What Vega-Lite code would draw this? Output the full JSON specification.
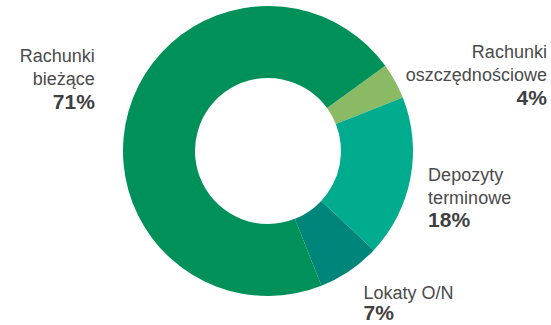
{
  "$schema": "https://vega.github.io/schema/vega-lite/v6.json",
  "width": 536,
  "height": 302,
  "autosize": {"type": "none"},
  "padding": {"left": 0, "top": 0, "right": 15, "bottom": 23},
  "background": "white",
  "view": {"stroke": null},
  "config": {"text": {"font": "Liberation Sans"}},
  "data": {"values": [
    {"k": 1, "cat": "osz", "name": "Rachunki\noszczędnościowe", "value": 4, "pct": "4%"},
    {"k": 2, "cat": "dep", "name": "Depozyty\nterminowe", "value": 18, "pct": "18%"},
    {"k": 3, "cat": "lok", "name": "Lokaty O/N", "value": 7, "pct": "7%"},
    {"k": 4, "cat": "bie", "name": "Rachunki\nbieżące", "value": 71, "pct": "71%"}
  ]},
  "encoding": {
    "theta": {"field": "value", "type": "quantitative", "stack": true, "scale": {"range": [0.942, 7.2252]}},
    "order": {"field": "k", "type": "quantitative"}
  },
  "layer": [
    {"mark": {"type": "arc", "outerRadius": 145, "innerRadius": 73},
     "encoding": {"color": {"field": "cat", "type": "nominal", "legend": null,
       "scale": {"domain": ["osz", "dep", "lok", "bie"], "range": ["#8aba64", "#00ab8e", "#00857a", "#00905a"]}}}},
    {"mark": {"type": "text", "radius": 175, "align": "right", "baseline": "alphabetic", "lineBreak": "\n", "lineHeight": 23, "fontSize": 18, "fill": "#4a4a4a", "dx": 125.6, "dy": -8.7},
     "encoding": {"text": {"condition": {"test": "datum.cat === 'osz'", "field": "name"}, "value": ""}}},
    {"mark": {"type": "text", "radius": 175, "align": "right", "baseline": "alphabetic", "fontSize": 21, "fontWeight": "bold", "fill": "#3f3f3f", "dx": 125.6, "dy": 38.3},
     "encoding": {"text": {"condition": {"test": "datum.cat === 'osz'", "field": "pct"}, "value": ""}}},
    {"mark": {"type": "text", "radius": 175, "align": "left", "baseline": "alphabetic", "lineBreak": "\n", "lineHeight": 23, "fontSize": 18, "fill": "#4a4a4a", "dx": -11.8, "dy": -2.4},
     "encoding": {"text": {"condition": {"test": "datum.cat === 'dep'", "field": "name"}, "value": ""}}},
    {"mark": {"type": "text", "radius": 175, "align": "left", "baseline": "alphabetic", "fontSize": 21, "fontWeight": "bold", "fill": "#3f3f3f", "dx": -11.8, "dy": 43.6},
     "encoding": {"text": {"condition": {"test": "datum.cat === 'dep'", "field": "pct"}, "value": ""}}},
    {"mark": {"type": "text", "radius": 175, "align": "left", "baseline": "alphabetic", "lineBreak": "\n", "lineHeight": 23, "fontSize": 18, "fill": "#4a4a4a", "dx": -2.9, "dy": 3.5},
     "encoding": {"text": {"condition": {"test": "datum.cat === 'lok'", "field": "name"}, "value": ""}}},
    {"mark": {"type": "text", "radius": 175, "align": "left", "baseline": "alphabetic", "fontSize": 21, "fontWeight": "bold", "fill": "#3f3f3f", "dx": -2.9, "dy": 24.8},
     "encoding": {"text": {"condition": {"test": "datum.cat === 'lok'", "field": "pct"}, "value": ""}}},
    {"mark": {"type": "text", "radius": 175, "align": "right", "baseline": "alphabetic", "lineBreak": "\n", "lineHeight": 23, "fontSize": 18, "fill": "#4a4a4a", "dx": -5.1, "dy": -40.6},
     "encoding": {"text": {"condition": {"test": "datum.cat === 'bie'", "field": "name"}, "value": ""}}},
    {"mark": {"type": "text", "radius": 175, "align": "right", "baseline": "alphabetic", "fontSize": 21, "fontWeight": "bold", "fill": "#3f3f3f", "dx": -5.1, "dy": 6.4},
     "encoding": {"text": {"condition": {"test": "datum.cat === 'bie'", "field": "pct"}, "value": ""}}}
  ]
}
